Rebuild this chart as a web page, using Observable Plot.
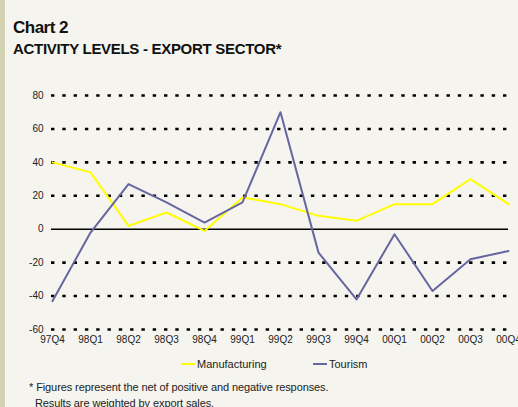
<!DOCTYPE html>
<html>
<head>
<meta charset="utf-8">
<script src="https://cdn.jsdelivr.net/npm/d3@7"></script>
<script src="https://cdn.jsdelivr.net/npm/@observablehq/plot@0.6"></script>
<style>
html,body{margin:0;padding:0;}
body{width:518px;height:407px;overflow:hidden;background:#f5f4ee;font-family:"Liberation Sans",Arial,sans-serif;position:relative;}
#strip{position:absolute;left:0;top:0;width:5px;height:407px;background:#d3d3b3;}
#title{position:absolute;left:13px;top:18px;font-weight:bold;font-size:17px;color:#111;letter-spacing:-0.5px;white-space:nowrap;}
#subtitle{position:absolute;left:13px;top:40px;font-weight:bold;font-size:15px;color:#111;letter-spacing:-0.3px;white-space:nowrap;}
#chart{position:absolute;left:0;top:0;}
#legend{position:absolute;top:358px;left:0;width:518px;font-size:11px;color:#222;}
.li{position:absolute;top:0;display:flex;align-items:center;}
.sw{display:inline-block;width:14px;height:2px;margin-right:2px;}
#foot{position:absolute;left:29px;top:379px;font-size:11px;color:#222;line-height:16px;letter-spacing:-0.1px;white-space:nowrap;}
</style>
</head>
<body>
<div id="strip"></div>
<div id="title">Chart 2</div>
<div id="subtitle">ACTIVITY LEVELS - EXPORT SECTOR*</div>
<div id="chart"></div>
<div id="legend">
  <div class="li" style="left:181px"><span class="sw" style="background:#ffff00"></span>Manufacturing</div>
  <div class="li" style="left:313px"><span class="sw" style="background:#6666a0"></span>Tourism</div>
</div>
<div id="foot">* Figures represent the net of positive and negative responses.<br>&nbsp;&nbsp;Results are weighted by export sales.</div>
<script>
const quarters = ["97Q4","98Q1","98Q2","98Q3","98Q4","99Q1","99Q2","99Q3","99Q4","00Q1","00Q2","00Q3","00Q4"];
const manufacturing = [40,34,2,10,-1,19,15,8,5,15,15,30,15];
const tourism = [-43,-2,27,16,4,16,70,-14,-42,-3,-37,-18,-13];
const yTicks = [-60,-40,-20,0,20,40,60,80];

const rows = [];
quarters.forEach((q,i)=>{
  rows.push({q, v: manufacturing[i], s: "Manufacturing"});
  rows.push({q, v: tourism[i], s: "Tourism"});
});

const chart = Plot.plot({
  width: 518,
  height: 355,
  marginTop: 95,
  marginBottom: 26,
  marginLeft: 51,
  marginRight: 10,
  style: {background: "transparent", fontFamily: "Liberation Sans, Arial, sans-serif", fontSize: "10px", color: "#222", overflow: "visible"},
  x: {type: "point", domain: quarters, padding: 0, label: null},
  y: {domain: [-60, 80], label: null},
  color: {domain: ["Manufacturing","Tourism"], range: ["#ffff00","#6666a0"]},
  marks: [
    Plot.ruleY(yTicks.filter(d => d !== 0), {stroke: "#000", strokeWidth: 2.6, strokeDasharray: "3.4,7.9"}),
    Plot.ruleY([0], {stroke: "#000", strokeWidth: 1.4}),
    Plot.line(rows, {x: "q", y: "v", z: "s", stroke: "s", strokeWidth: 2}),
    Plot.axisY({ticks: yTicks, tickSize: 0, tickPadding: 8, label: null, tickFormat: d => String(d)}),
    Plot.axisX({tickSize: 0, tickPadding: 6, label: null})
  ]
});
document.getElementById("chart").appendChild(chart);
</script>
</body>
</html>
